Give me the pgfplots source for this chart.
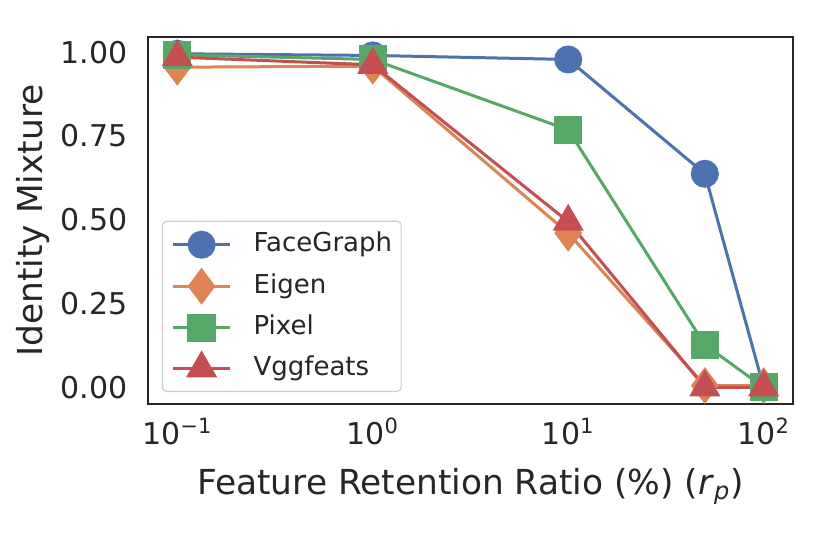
\documentclass[border=0pt]{standalone}
\usepackage{fontspec}
\setmainfont{DejaVu Sans}
\usepackage{pgfplots}
\pgfplotsset{compat=1.18}

\definecolor{sbblue}{HTML}{4C72B0}
\definecolor{sborange}{HTML}{DD8452}
\definecolor{sbgreen}{HTML}{55A868}
\definecolor{sbred}{HTML}{C44E52}
\definecolor{txt}{HTML}{262626}

\begin{document}
\begin{tikzpicture}
\path[use as bounding box] (0,0) rectangle (415pt,277pt);
\begin{axis}[
    at={(74pt,75pt)}, anchor=south west, scale only axis,
    width=322.5pt, height=183.5pt,
    xmode=log, xmin=0.0708, xmax=141.3,
    ymin=-0.0498, ymax=1.045,
    xtick={0.1,1,10,100},
    xticklabels={10\textsuperscript{−1},10\textsuperscript{0},10\textsuperscript{1},10\textsuperscript{2}},
    ytick={0,0.25,0.5,0.75,1},
    yticklabels={0.00,0.25,0.50,0.75,1.00},
    major tick length=0pt, minor tick length=0pt,
    axis line style={line width=1.25pt, color=txt},
    tick label style={font=\fontsize{15}{18}\selectfont, color=txt, inner sep=0pt},
    yticklabel style={anchor=east, xshift=-10pt},
    xticklabel style={anchor=north, yshift=-7pt},
    xlabel={Feature Retention Ratio (\%) (\textit{r}\textsubscript{\textit{p}})},
    ylabel={Identity Mixture},
    label style={font=\fontsize{17.2}{20}\selectfont, color=txt},
    xlabel style={at={(axis description cs:0.5,0)}, anchor=base, yshift=-45pt},
    ylabel style={at={(axis description cs:-0.1628,0.5)}, anchor=base},
    every axis plot/.append style={line width=1.5pt},
    legend cell align=left,
    legend image code/.code={\draw[mark repeat=2,mark phase=2] plot coordinates {(0pt,0pt) (14.25pt,0pt) (28.5pt,0pt)};},
    legend style={at={(axis description cs:0.0217,0.0327)}, anchor=south west,
        font=\fontsize{13}{15}\selectfont, text=txt,
        draw=black!20, line width=0.6pt, rounded corners=2pt, fill=white,
        inner xsep=4.5pt, inner ysep=5.5pt,
        nodes={inner sep=0pt, text height=9.5pt, text depth=2.5pt},
        row sep=6.5pt,
        /tikz/every odd column/.append style={column sep=11pt}},
]
\addplot[sbblue, mark=*, mark size=6.25pt, mark options={draw=none, fill=sbblue}]
  coordinates {(0.1,0.995) (1,0.99) (10,0.978) (50,0.637) (100,0.0)};
\addlegendentry{FaceGraph}
\addplot[sborange, mark=diamond*, mark size=8pt, mark options={draw=none, fill=sborange}]
  coordinates {(0.1,0.955) (1,0.958) (10,0.46) (50,0.005) (100,0.005)};
\addlegendentry{Eigen}
\addplot[sbgreen, mark=square*, mark size=6.3pt, mark options={draw=none, fill=sbgreen}]
  coordinates {(0.1,0.992) (1,0.978) (10,0.768) (50,0.127) (100,0.0)};
\addlegendentry{Pixel}
\addplot[sbred, mark=triangle*, mark size=7.5pt, mark options={draw=none, fill=sbred}]
  coordinates {(0.1,0.985) (1,0.962) (10,0.494) (50,0.0) (100,0.0)};
\addlegendentry{Vggfeats}
\end{axis}
\end{tikzpicture}
\end{document}
